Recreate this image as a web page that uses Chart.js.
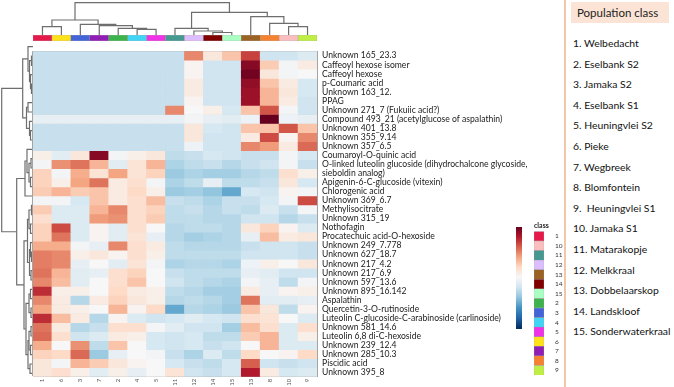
<!DOCTYPE html>
<html>
<head>
<meta charset="utf-8">
<script src="https://cdn.jsdelivr.net/npm/chart.js@4.4.1/dist/chart.umd.min.js"></script>
<style>
html, body { margin: 0; padding: 0; background: #fff; }
body { width: 674px; height: 387px; position: relative; overflow: hidden; font-family: Lato, "Open Sans", sans-serif; }
canvas { position: absolute; }
#sep { position: absolute; left: 564px; top: 0; width: 2px; height: 387px; background: #f2c7a8; }
#popTitle { position: absolute; left: 571px; top: 2px; width: 98px; height: 21px; background: #fbe4d5; font-size: 11.5px; line-height: 21px; padding-left: 6px; box-sizing: border-box; color: #222; }
#popList { position: absolute; left: 573px; top: 35px; margin: 0; padding: 0; list-style: none; font-size: 10.4px; color: #111; }
#popList li { height: 20.6px; line-height: 16px; white-space: pre; }
</style>
</head>
<body>
<canvas id="dendTop" width="286" height="36" style="left:32px;top:0px"></canvas>
<canvas id="annot" width="286" height="7" style="left:32px;top:34px"></canvas>
<canvas id="dendLeft" width="33" height="338" style="left:0px;top:41px"></canvas>
<canvas id="heat" width="528" height="346" style="left:32px;top:41px"></canvas>
<canvas id="scaleBar" width="24" height="116" style="left:508px;top:220px"></canvas>
<canvas id="classKey" width="34" height="160" style="left:531px;top:222px"></canvas>
<div id="sep"></div>
<div id="popTitle">Population class</div>
<ul id="popList"></ul>
<script>
// column order as shown (after clustering)
const colLabels = ['1', '6', '3', '7', '2', '4', '5', '11', '12', '14', '15', '13', '8', '10', '9'];
const classColors = {
    '1': '#e6194b', '2': '#3cb44b', '3': '#4363d8', '4': '#42d4f4', '5': '#f032e6',
    '6': '#ffe119', '7': '#911eb4', '8': '#f58231', '9': '#bfef45', '10': '#fabebe',
    '11': '#469990', '12': '#dcbeff', '13': '#9a6324', '14': '#800000', '15': '#aaffc3'
};
const legendClasses = ['1', '10', '11', '12', '13', '14', '15', '2', '3', '4', '5', '6', '7', '8', '9'];

const rowLabels = [
    'Unknown 165_23.3', 'Caffeoyl hexose isomer', 'Caffeoyl hexose', 'p-Coumaric acid',
    'Unknown 163_12.', 'PPAG', 'Unknown 271_7 (Fukuiic acid?)',
    'Compound 493_21 (acetylglucose of aspalathin)', 'Unknown 401_13.8', 'Unknown 355_9.14',
    'Unknown 357_6.5', 'Coumaroyl-O-quinic acid',
    'O-linked luteolin glucoside (dihydrochalcone glycoside,', 'sieboldin analog)',
    'Apigenin-6-C-glucoside (vitexin)', 'Chlorogenic acid', 'Unknown 369_6.7', 'Methylisocitrate',
    'Unknown 315_19', 'Nothofagin', 'Procatechuic acid-O-hexoside', 'Unknown 249_7.778',
    'Unknown 627_18.7', 'Unknown 217_4.2', 'Unknown 217_6.9', 'Unknown 597_13.6',
    'Unknown 895_16.142', 'Aspalathin', 'Quercetin-3-O-rutinoside',
    'Luteolin C-glucoside-C-arabinoside (carlinoside)', 'Unknown 581_14.6',
    'Luteolin 6,8 di-C-hexoside', 'Unknown 239_12.4', 'Unknown 285_10.3', 'Piscidic acid',
    'Unknown 395_8'
];

// scaled values, one row per compound, columns in colLabels order
const zScores = [
    [-0.8, -0.8, -0.8, -0.8, -0.8, -0.8, -0.8, -0.8, 1.7, 0.4, 1.0, 2.4, -0.7, -0.7, -0.5],
    [-0.8, -0.8, -0.8, -0.8, -0.8, -0.8, -0.8, -0.8, 0.1, -0.7, -0.7, 3.2, 0.9, -0.1, 0.3],
    [-0.8, -0.8, -0.8, -0.8, -0.8, -0.8, -0.8, -0.8, 0.1, -0.7, -0.7, 3.4, 0.4, -0.1, 0.0],
    [-0.8, -0.8, -0.8, -0.8, -0.8, -0.8, -0.8, -0.8, 0.3, -0.7, -0.7, 3.1, 1.0, 0.3, -0.6],
    [-0.8, -0.8, -0.8, -0.8, -0.8, -0.8, -0.8, -0.8, 0.3, -0.7, -0.7, 3.0, 1.2, 0.4, -0.6],
    [-0.8, -0.8, -0.8, -0.8, -0.8, -0.8, -0.8, -0.8, 0.1, -0.7, -0.7, 3.0, 1.2, 0.3, -0.7],
    [-0.8, -0.8, -0.8, -0.8, -0.8, -0.8, -0.8, 1.7, 0.0, 0.2, -0.6, 1.0, 2.2, -0.1, -0.7],
    [-0.3, -0.3, -0.3, -0.3, -0.3, -0.3, -0.3, -0.3, -0.1, -0.3, -0.4, -0.2, 3.5, -0.2, -0.3],
    [-0.8, -0.8, -0.8, -0.8, -0.8, -0.8, -0.8, -0.8, 0.4, -0.6, -0.7, 1.0, 1.0, 2.2, 1.0],
    [-0.8, -0.8, -0.8, -0.8, -0.8, -0.8, -0.8, -0.8, 0.4, -0.7, -0.7, 0.3, 2.3, 0.1, 1.7],
    [-0.8, -0.8, -0.8, -0.8, -0.8, -0.8, -0.8, -0.8, -0.2, -0.7, -0.7, 1.7, 1.5, 0.3, 2.0],
    [0.2, -0.4, 0.4, 3.2, -0.1, 0.2, 0.4, -0.9, -0.8, -0.6, -0.7, -0.8, -0.8, -0.1, -0.6],
    [-0.1, 1.6, 1.9, 1.2, -0.4, 0.5, 1.2, -1.1, -0.9, -0.8, -1.0, -0.8, -0.7, -0.1, -0.8],
    [0.8, -0.1, 1.3, 0.5, 1.4, 0.5, 0.8, -1.3, -1.1, -1.2, -1.2, -1.0, -0.9, 0.6, 0.2],
    [0.8, 0.2, 1.4, 1.9, 0.3, 0.6, -0.1, -1.1, -0.9, -0.3, -0.9, -0.9, -0.8, 0.4, -0.6],
    [0.9, 1.2, 0.9, 1.0, 0.3, 0.7, 0.2, -1.3, -1.2, -1.4, -1.8, -0.6, -0.7, 0.1, -0.1],
    [-0.1, -0.1, -0.6, 1.0, 0.3, 0.6, 1.1, -0.8, -0.9, -1.1, -0.8, -0.8, -0.6, -0.1, 2.3],
    [0.9, -0.5, -0.5, 1.2, 1.7, 0.6, 0.8, -0.9, -0.8, -1.0, -0.8, -0.9, -0.5, -0.8, -0.1],
    [0.6, -0.5, -0.5, 1.5, 1.6, 0.6, 0.9, -0.9, -0.9, -1.0, -1.0, -0.7, -0.7, -1.0, -0.8],
    [0.8, 2.3, -0.5, 0.1, -0.4, 0.6, 0.0, -1.0, -0.9, -0.9, -1.0, 0.4, 0.8, 0.1, -0.5],
    [0.8, 1.9, -0.5, 0.1, -0.4, 0.5, -0.3, -1.0, -1.2, -1.1, -1.0, -0.3, 1.1, 0.3, 0.4],
    [1.3, 1.3, -0.1, -0.3, 1.7, 0.6, 0.3, -0.9, -1.0, -1.0, -1.0, -0.8, -0.7, -0.7, -0.8],
    [1.8, 1.7, 0.2, 0.4, 0.1, 0.6, 0.2, -0.9, -0.9, -0.9, -0.9, -0.7, -0.7, -0.7, -0.8],
    [1.8, 1.7, -0.3, 0.0, -0.4, 0.5, -0.1, -1.1, -1.0, -1.0, -1.1, -0.2, 0.2, 0.0, 0.4],
    [1.9, 1.2, -0.4, -0.3, 0.6, 0.8, 0.0, -0.8, -0.9, -0.9, -0.9, -0.3, -0.4, -0.7, -0.7],
    [1.7, 1.1, -0.4, 0.0, 0.6, 1.0, 0.0, -0.7, -0.9, -1.0, -1.1, -0.1, -0.3, -0.9, -0.1],
    [2.6, 0.2, 0.2, 0.0, 0.7, 0.3, 0.2, -0.9, -1.0, -1.2, -1.2, 0.3, -0.3, 0.1, 0.2],
    [1.7, 0.3, -1.0, 0.3, 0.8, 0.4, 0.2, -1.0, -0.9, -1.0, -1.2, 1.9, -0.4, -0.4, -0.3],
    [1.4, 0.3, 0.2, 0.0, 1.2, 0.1, 0.7, -1.8, -1.0, -1.1, -1.3, 1.0, 0.4, -0.9, 0.1],
    [2.6, 1.1, 0.3, -1.0, 0.1, -0.5, -0.7, -0.6, -0.4, -0.6, -0.7, 0.6, 0.5, 0.0, -0.5],
    [1.9, 0.3, -1.0, -0.8, 0.6, 0.6, -0.1, -0.4, -0.7, -0.7, -1.2, 1.1, 0.6, -0.5, 0.6],
    [2.0, 0.6, -0.7, -0.5, 0.3, 0.2, -0.6, -0.7, -0.6, -0.9, -0.9, 0.9, 1.2, -0.5, 0.2],
    [1.3, 0.0, 1.6, -0.9, 1.0, 0.0, -0.6, -0.7, -0.6, -0.8, -0.7, 0.0, 1.2, -0.5, -0.5],
    [0.8, 0.7, 2.0, -1.3, -0.3, 0.0, -0.1, -0.8, -1.1, -0.5, -0.9, 0.7, 0.0, 0.1, 0.7],
    [0.4, -0.1, 1.2, 0.9, 0.4, 0.1, 0.0, -0.6, -0.8, -0.9, -0.6, 2.1, -0.7, -0.8, -0.7],
    [0.4, 0.6, 0.2, -0.4, 0.2, -0.3, 0.0, 0.5, -0.7, -0.8, -0.6, 2.8, 0.3, -0.6, -0.5]
];

// dendrograms: hclust-style merges (negative = leaf position, positive = earlier merge)
const colMerge = [[-6, -7], [-5, 1], [-4, 2], [-3, 3], [-1, -2], [5, 4],
    [-10, -11], [-9, 7], [-8, 8], [-14, -15], [-13, 10], [-12, 11], [9, 12], [6, 13]];
const colHeight = [5.7, 6.7, 9.3, 10.7, 8.3, 15, 2.5, 4, 6.7, 8.3, 11.7, 18.3, 22.7, 32.3];
const rowMerge = [[-2, -3], [-5, -6], [-4, 2], [1, 3], [-1, 4], [-10, -11], [-9, 6], [-7, -8], [8, 7], [5, 9],
    [-13, -14], [-15, -16], [11, 12], [-12, 13], [-17, 14],
    [-18, -19], [-20, -21], [16, 17], [-23, -24], [-22, 19], [-25, -26], [20, 21], [18, 22],
    [-27, -28], [-29, -30], [24, 25], [-31, -32], [-33, -34], [27, 28], [-35, -36], [29, 30], [26, 31],
    [23, 32], [15, 33], [10, 34]];
const rowHeight = [1.5, 1.5, 2.5, 3.5, 5, 2.5, 3.5, 5, 6.5, 10.3,
    2, 2.5, 4, 6, 8,
    1.5, 2.5, 4, 1.5, 2.5, 2, 3.5, 5.5,
    2.5, 2, 4, 2, 2.5, 4, 3, 5, 7,
    9, 16.3, 31.3];

// colour key
const keyStops = [-3.5, -2.8, -2.1, -1.4, -0.7, 0, 0.7, 1.4, 2.1, 2.8, 3.5];
const keyColors = ['#053061', '#2166ac', '#4393c3', '#92c5de', '#d1e5f0', '#f7f7f7',
    '#fddbc7', '#f4a582', '#d6604d', '#b2182b', '#67001f'];
const keyRange = [-3.6, 3.5];

const populationNames = ['Welbedacht', 'Eselbank S2', 'Jamaka S2', 'Eselbank S1', 'Heuningvlei S2',
    'Pieke', 'Wegbreek', 'Blomfontein', ' Heuningvlei S1', 'Jamaka S1', 'Matarakopje', 'Melkkraal',
    'Dobbelaarskop', 'Landskloof', 'Sonderwaterkraal'];

Chart.defaults.font.family = 'Lato, "Open Sans", sans-serif';
Chart.defaults.animation = false;
Chart.defaults.plugins.legend.display = false;
Chart.defaults.plugins.tooltip.enabled = false;

const hex = h => [1, 3, 5].map(i => parseInt(h.substr(i, 2), 16));
function zColor(z) {
    if (z <= keyStops[0]) return keyColors[0];
    for (let i = 1; i < keyStops.length; i++) {
        if (z <= keyStops[i]) {
            const t = (z - keyStops[i - 1]) / (keyStops[i] - keyStops[i - 1]);
            const a = hex(keyColors[i - 1]), b = hex(keyColors[i]);
            const c = a.map((v, k) => Math.round(v + (b[k] - v) * t));
            return 'rgb(' + c.join(',') + ')';
        }
    }
    return keyColors[keyColors.length - 1];
}

const gridGrey = '#a4a4a4';

// heatmap
new Chart(document.getElementById('heat'), {
    type: 'bar',
    data: {
        labels: colLabels,
        datasets: rowLabels.map((name, r) => ({
            label: name,
            data: colLabels.map(() => 1),
            backgroundColor: zScores[r].map(zColor),
            borderWidth: 0,
            barPercentage: 1,
            categoryPercentage: 1,
            yAxisID: 'y'
        }))
    },
    options: {
        responsive: false,
        layout: { padding: { left: 1, top: 1, right: 0, bottom: 0 } },
        scales: {
            x: {
                stacked: true,
                z: 1,
                grid: { offset: true, color: gridGrey, drawTicks: false },
                border: { color: gridGrey },
                ticks: { minRotation: 90, maxRotation: 90, padding: 2, font: { size: 6 }, color: '#555' },
                afterFit: s => { s.height = 9; }
            },
            y: { stacked: true, display: false, min: 0, max: rowLabels.length, reverse: true },
            yLab: {
                type: 'category',
                labels: rowLabels,
                position: 'right',
                offset: true,
                z: 1,
                grid: { offset: true, color: gridGrey, drawTicks: false },
                border: { color: gridGrey },
                ticks: { autoSkip: false, padding: 5, font: { size: 8.6 }, color: '#1a1a1a' },
                afterFit: s => { s.width = 243; }
            }
        }
    }
});

// class annotation strip above heatmap
new Chart(document.getElementById('annot'), {
    type: 'bar',
    data: {
        labels: colLabels,
        datasets: [{
            data: colLabels.map(() => 1),
            backgroundColor: colLabels.map(c => classColors[c]),
            borderColor: '#9a9a9a',
            borderWidth: 0.5,
            borderSkipped: false,
            barPercentage: 1,
            categoryPercentage: 1
        }]
    },
    options: {
        responsive: false,
        layout: { padding: { left: 1, right: 1, top: 1, bottom: 0 } },
        scales: { x: { display: false }, y: { display: false, min: 0, max: 1 } }
    }
});

function dendroSegments(merges, heights) {
    const pos = [], hgt = [];
    return merges.map(([a, b], i) => {
        const pa = a < 0 ? -a - 1 : pos[a - 1], ha = a < 0 ? 0 : hgt[a - 1];
        const pb = b < 0 ? -b - 1 : pos[b - 1], hb = b < 0 ? 0 : hgt[b - 1];
        pos[i] = (pa + pb) / 2;
        hgt[i] = heights[i];
        return [[pa, ha], [pa, heights[i]], [pb, heights[i]], [pb, hb]];
    });
}

function dendroChart(id, merges, heights, sideways, scales, padding) {
    const segs = dendroSegments(merges, heights);
    new Chart(document.getElementById(id), {
        type: 'scatter',
        data: {
            datasets: segs.map(s => ({
                data: s.map(([p, h]) => sideways ? { x: h, y: p } : { x: p, y: h }),
                showLine: true,
                borderColor: '#6e6e6e',
                borderWidth: 1.2,
                pointRadius: 0,
                clip: false
            }))
        },
        options: { responsive: false, layout: { padding: padding }, scales: scales }
    });
}

dendroChart('dendTop', colMerge, colHeight, false, {
    x: { display: false, min: -0.5, max: colLabels.length - 0.5 },
    y: { display: false, min: 0, max: 35 }
}, { left: 1, right: 1, top: 0, bottom: 1 });

dendroChart('dendLeft', rowMerge, rowHeight, true, {
    x: { display: false, min: 0, max: 33, reverse: true },
    y: { display: false, min: -0.5, max: rowLabels.length - 0.5, reverse: true }
}, { left: 0, right: 0, top: 1, bottom: 1 });

// colour key bar
new Chart(document.getElementById('scaleBar'), {
    type: 'bar',
    data: {
        labels: ['z'],
        datasets: [{
            data: [keyRange],
            barPercentage: 1,
            categoryPercentage: 1,
            backgroundColor: ctx => {
                const chart = ctx.chart;
                if (!chart.chartArea) return null;
                const ys = chart.scales.y;
                const g = chart.ctx.createLinearGradient(0, ys.getPixelForValue(keyRange[0]), 0, ys.getPixelForValue(keyRange[1]));
                keyStops.forEach((v, i) => {
                    const t = (v - keyRange[0]) / (keyRange[1] - keyRange[0]);
                    if (t >= 0 && t <= 1) g.addColorStop(t, keyColors[i]);
                });
                g.addColorStop(0, keyColors[0]);
                g.addColorStop(1, keyColors[keyColors.length - 1]);
                return g;
            }
        }]
    },
    options: {
        responsive: false,
        layout: { padding: { left: 8, top: 5, bottom: 6, right: 0 } },
        scales: {
            x: { display: false },
            y: {
                position: 'right',
                min: keyRange[0],
                max: keyRange[1],
                grid: { display: false },
                border: { display: false },
                ticks: { stepSize: 1, includeBounds: false, padding: 3, font: { size: 6.5 }, color: '#444' },
                afterFit: s => { s.width = 10; }
            }
        }
    }
});

// class colour key
new Chart(document.getElementById('classKey'), {
    type: 'bar',
    data: {
        labels: legendClasses,
        datasets: [{
            data: legendClasses.map(() => 1),
            backgroundColor: legendClasses.map(c => classColors[c]),
            borderColor: '#9a9a9a',
            borderWidth: 0.5,
            borderSkipped: false,
            barPercentage: 1,
            categoryPercentage: 1
        }]
    },
    options: {
        responsive: false,
        indexAxis: 'y',
        layout: { padding: { left: 3, top: 0, bottom: 3, right: 0 } },
        plugins: {
            title: { display: true, text: 'class', align: 'start', font: { size: 7, weight: 'bold' }, color: '#222', padding: { top: 0, bottom: 1 } }
        },
        scales: {
            x: { display: false, min: 0, max: 1 },
            y: {
                position: 'right',
                grid: { display: false },
                border: { display: false },
                ticks: { autoSkip: false, padding: 3, font: { size: 6.5 }, color: '#333' },
                afterFit: s => { s.width = 21; }
            }
        }
    }
});

const list = document.getElementById('popList');
populationNames.forEach((n, i) => {
    const li = document.createElement('li');
    li.textContent = (i + 1) + '. ' + n;
    list.appendChild(li);
});
</script>
</body>
</html>
